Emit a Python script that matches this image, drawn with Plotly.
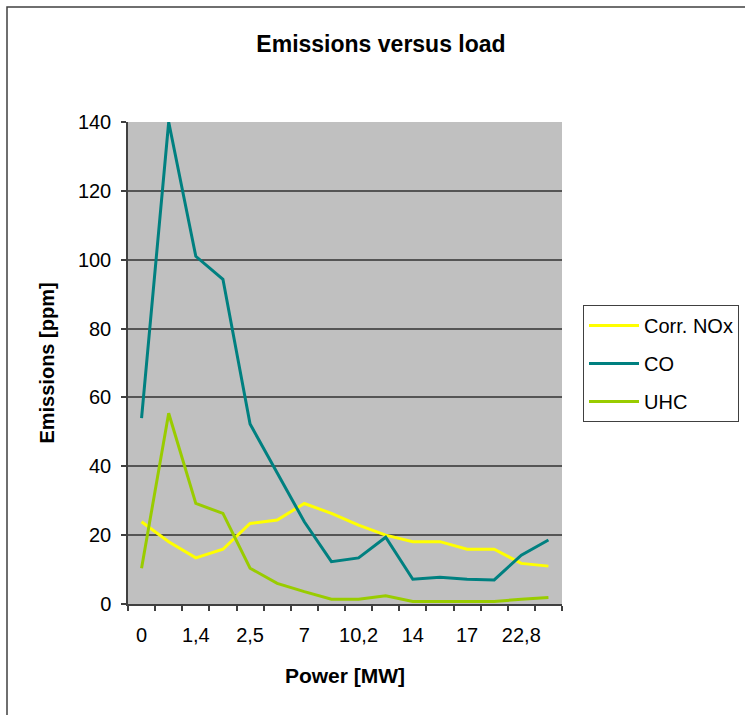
import plotly.graph_objects as go

# Data
tick_labels = ["0", "1,4", "2,5", "7", "10,2", "14", "17", "22,8"]
nox = [23.9, 18.1, 13.4, 15.9, 23.4, 24.4, 29.2, 26.3, 22.9, 20.0, 18.1, 18.1, 15.9, 15.9, 11.8, 11.0]
co = [54.0, 140.0, 101.0, 94.3, 52.3, 38.0, 23.9, 12.3, 13.4, 19.4, 7.2, 7.8, 7.2, 7.0, 14.2, 18.6]
uhc = [10.4, 55.4, 29.2, 26.3, 10.4, 6.0, 3.6, 1.4, 1.4, 2.4, 0.7, 0.7, 0.7, 0.7, 1.4, 1.9]
series_names = ["Corr. NOx", "CO", "UHC"]
colors = ["#FFFF00", "#008080", "#99CC00"]

n = len(co)
xs = list(range(n))
tickvals = xs[::2]
boundaries = [i - 0.5 for i in range(n + 1)]

FONT = "Liberation Sans, Arial, sans-serif"

fig = go.Figure()
for name, vals, col in zip(series_names, [nox, co, uhc], colors):
    fig.add_trace(go.Scatter(x=xs, y=vals, mode="lines", name=name, legendgroup=name,
                             line=dict(color=col, width=3)))

W, H = 745, 715
L, R, T, B = 128, 183, 122, 111
pw, ph = W - L - R, H - T - B

def px(xp):
    return (xp - L) / pw

def py(yp):
    return (H - B - yp) / ph

fig.update_layout(
    width=W, height=H,
    margin=dict(l=L, r=R, t=T, b=B, pad=0),
    paper_bgcolor="white",
    plot_bgcolor="#C0C0C0",
    font=dict(family=FONT, size=20, color="black"),
    title=dict(text="<b>Emissions versus load</b>", x=381 / W, xanchor="center",
               y=1 - 44 / H, yanchor="middle", font=dict(size=23, family=FONT)),
    showlegend=True,
    legend=dict(xref="container", yref="container",
                x=583 / W, xanchor="left", y=1 - 305 / H, yanchor="top",
                bordercolor="#404040", borderwidth=1, bgcolor="white",
                font=dict(size=20, family=FONT), tracegroupgap=9,
                itemwidth=50),
    shapes=[dict(type="rect", xref="paper", yref="paper",
                 x0=px(7), x1=px(770), y0=py(740), y1=py(7),
                 line=dict(color="#404040", width=1.5), fillcolor="rgba(0,0,0,0)")],
)

fig.update_xaxes(
    range=[-0.5, n - 0.5], tickmode="array", tickvals=tickvals, ticktext=tick_labels,
    ticks="", showgrid=False, zeroline=False,
    showline=True, linecolor="#404040", linewidth=1.5,
    minor=dict(tickmode="array", tickvals=boundaries, ticks="outside", ticklen=5,
               tickcolor="#404040", tickwidth=1.5, showgrid=False),
    ticklabelstandoff=12,
    title=dict(text="<b>Power [MW]</b>", font=dict(size=21, family=FONT), standoff=24),
)
fig.update_yaxes(
    range=[0, 140], dtick=20, tick0=0,
    ticks="outside", ticklen=5, tickcolor="#404040", tickwidth=1.5,
    showgrid=True, gridcolor="#555555", gridwidth=1.5, zeroline=False,
    showline=True, linecolor="#404040", linewidth=1.5,
    ticklabelstandoff=6,
    title=dict(text="<b>Emissions [ppm]</b>", font=dict(size=20, family=FONT), standoff=18),
)

fig.write_html("out.html")
